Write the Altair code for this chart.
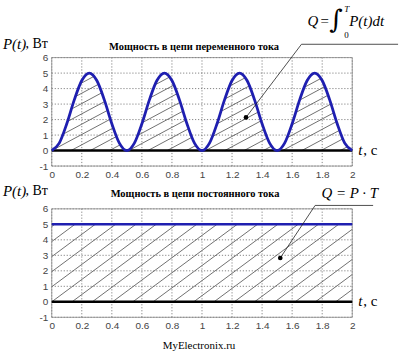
import altair as alt
import pandas as pd

# ---------------- data ----------------
t_vals = [0.0, 0.05, 0.1, 0.15, 0.2, 0.25, 0.3, 0.35, 0.4, 0.45,
          0.5, 0.55, 0.6, 0.65, 0.7, 0.75, 0.8, 0.85, 0.9, 0.95,
          1.0, 1.05, 1.1, 1.15, 1.2, 1.25, 1.3, 1.35, 1.4, 1.45,
          1.5, 1.55, 1.6, 1.65, 1.7, 1.75, 1.8, 1.85, 1.9, 1.95, 2.0]
p_ac = [0.0, 0.48, 1.73, 3.27, 4.52, 5.0, 4.52, 3.27, 1.73, 0.48,
        0.0, 0.48, 1.73, 3.27, 4.52, 5.0, 4.52, 3.27, 1.73, 0.48,
        0.0, 0.48, 1.73, 3.27, 4.52, 5.0, 4.52, 3.27, 1.73, 0.48,
        0.0, 0.48, 1.73, 3.27, 4.52, 5.0, 4.52, 3.27, 1.73, 0.48, 0.0]
t_dc = [0.0, 2.0]
p_dc = [5.0, 5.0]

x_ticks = [0, 0.2, 0.4, 0.6, 0.8, 1, 1.2, 1.4, 1.6, 1.8, 2]
y_ticks = [-1, 0, 1, 2, 3, 4, 5, 6]

title_ac = "Мощность в цепи переменного тока"
title_dc = "Мощность в цепи постоянного тока"
site = "MyElectronix.ru"

# annotation anchors (data coordinates)
lead_ac_x = [1.293, 1.662, 2.305]
lead_ac_y = [2.14, 6.86, 6.86]
lead_dc_x = [1.521, 1.753, 2.139]
lead_dc_y = [2.83, 6.22, 6.22]

# ---------------- styling ----------------
W, H = 302, 109
BLUE = "#1f1fb0"
SERIF = "Liberation Serif"
SANS = "Liberation Sans"
GRID = "#666"

xs = alt.Scale(domain=[0, 2], nice=False, zero=False)
ys = alt.Scale(domain=[-1, 6], nice=False, zero=False)
x_axis = alt.Axis(values=x_ticks, format="~g", grid=False, ticks=False, domain=False,
                  labelFont=SANS, labelFontSize=10, labelColor="#444", labelPadding=3,
                  labelOverlap=False, labelFlush=False, title=None)
y_axis = alt.Axis(values=y_ticks, labelExpr="'' + datum.value", grid=False, ticks=False,
                  domain=False, labelFont=SANS, labelFontSize=10, labelColor="#444",
                  labelPadding=4, labelOverlap=False, labelFlush=False, title=None)


def X(v):
    return alt.X(datum=v, scale=xs, axis=x_axis)


def Y(v):
    return alt.Y(datum=v, scale=ys, axis=y_axis)


one = pd.DataFrame({"k": [0]})


def txt(s, x, y, size=14, font=SERIF, style="normal", weight="normal", align="left"):
    return alt.Chart(one).mark_text(
        text=s, font=font, fontSize=size, fontStyle=style, fontWeight=weight,
        align=align, baseline="middle", color="black"
    ).encode(x=alt.value(x), y=alt.value(y))


def hatch_df(spacing, slope, top):
    rows = []
    k = -int(top / slope / spacing) - 2
    while k * spacing <= 2.05:
        x0 = k * spacing
        rows.append({"x0": x0, "x1": x0 + top / slope, "y0": 0.0, "y1": top})
        k += 1
    return pd.DataFrame(rows)


def frame_layers():
    gx = alt.Chart(pd.DataFrame({"v": x_ticks})).mark_rule(
        color=GRID, strokeWidth=0.8, strokeDash=[1.2, 1.8]
    ).encode(x=alt.X("v:Q", scale=xs, axis=x_axis), y=Y(-1), y2=alt.Y2(datum=6))
    gy = alt.Chart(pd.DataFrame({"v": y_ticks})).mark_rule(
        color=GRID, strokeWidth=0.8, strokeDash=[1.2, 1.8]
    ).encode(y=alt.Y("v:Q", scale=ys, axis=y_axis), x=X(0), x2=alt.X2(datum=2))
    border = alt.Chart(one).mark_rect(fillOpacity=0, stroke="#888", strokeWidth=0.8).encode(
        x=X(0), x2=alt.X2(datum=2), y=Y(-1), y2=alt.Y2(datum=6))
    zero = alt.Chart(one).mark_rule(color="black", strokeWidth=2.5).encode(
        y=Y(0), x=X(0), x2=alt.X2(datum=2))
    return gx, gy, border, zero


def leader(xv, yv):
    d = pd.DataFrame({"x": xv, "y": yv, "o": list(range(len(xv)))})
    line = alt.Chart(d).mark_line(color="#222", strokeWidth=0.8, clip=False).encode(
        x=alt.X("x:Q", scale=xs, axis=x_axis), y=alt.Y("y:Q", scale=ys, axis=y_axis),
        order="o:O")
    dot = alt.Chart(d.iloc[:1]).mark_circle(color="black", opacity=1, size=22).encode(
        x=alt.X("x:Q", scale=xs, axis=x_axis), y=alt.Y("y:Q", scale=ys, axis=y_axis))
    return line, dot


# ---------------- top panel (AC) ----------------
ac = pd.DataFrame({"t": t_vals, "p": p_ac})
h_ac = alt.Chart(hatch_df(0.128, 5.2, 6.0)).mark_rule(
    color="#333", strokeWidth=0.7, clip=True
).encode(x=alt.X("x0:Q", scale=xs, axis=x_axis), x2="x1:Q",
         y=alt.Y("y0:Q", scale=ys, axis=y_axis), y2="y1:Q")
mask = alt.Chart(ac).mark_area(interpolate="monotone", color="white", opacity=1, clip=True).encode(
    x=alt.X("t:Q", scale=xs, axis=x_axis), y=alt.Y("p:Q", scale=ys, axis=y_axis),
    y2=alt.Y2(datum=6))
curve_ac = alt.Chart(ac).mark_line(interpolate="monotone", color=BLUE, strokeWidth=2.8).encode(
    x=alt.X("t:Q", scale=xs, axis=x_axis), y=alt.Y("p:Q", scale=ys, axis=y_axis))
gx, gy, border, zero = frame_layers()
l_ac, d_ac = leader(lead_ac_x, lead_ac_y)
anchor_top = alt.Chart(one).mark_rule(strokeOpacity=0).encode(
    x=alt.value(-52), x2=alt.value(348), y=alt.value(-57))

top = alt.layer(
    h_ac, mask, gx, gy, border, zero, curve_ac, l_ac, d_ac,
    txt("P(t)", -49, -14, 15, style="italic"),
    txt(", Вт", -4, -14, 14, align="right"),
    txt(title_ac, 143, -11, 10.5, weight="bold", align="center"),
    txt("t", 308, 93, 15, style="italic"),
    txt(", с", 313, 93, 15),
    txt("Q", 257, -37, 15, style="italic"),
    txt("=", 270, -37, 15),
    txt("∫", 279, -38, 26, font="DejaVu Serif"),
    txt("T", 294, -49, 9, style="italic"),
    txt("0", 294, -23, 9),
    txt("P(t)dt", 299, -37, 15, style="italic"),
    anchor_top,
).properties(width=W, height=H)

# ---------------- bottom panel (DC) ----------------
dc = pd.DataFrame({"t": t_dc, "p": p_dc})
h_dc = alt.Chart(hatch_df(0.135, 7.2, 5.0)).mark_rule(
    color="#333", strokeWidth=0.7, clip=True
).encode(x=alt.X("x0:Q", scale=xs, axis=x_axis), x2="x1:Q",
         y=alt.Y("y0:Q", scale=ys, axis=y_axis), y2="y1:Q")
curve_dc = alt.Chart(dc).mark_line(color=BLUE, strokeWidth=2.5).encode(
    x=alt.X("t:Q", scale=xs, axis=x_axis), y=alt.Y("p:Q", scale=ys, axis=y_axis))
gx2, gy2, border2, zero2 = frame_layers()
l_dc, d_dc = leader(lead_dc_x, lead_dc_y)
anchor_bot = alt.Chart(one).mark_rule(strokeOpacity=0).encode(
    x=alt.value(-52), x2=alt.value(348), y=alt.value(147))

bottom = alt.layer(
    h_dc, gx2, gy2, border2, zero2, curve_dc, l_dc, d_dc,
    txt("P(t)", -49, -18, 15, style="italic"),
    txt(", Вт", -4, -18, 14, align="right"),
    txt(title_dc, 144, -15, 10.5, weight="bold", align="center"),
    txt("t", 308, 93, 15, style="italic"),
    txt(", с", 313, 93, 15),
    txt("Q = P · T", 271, -16, 15, style="italic"),
    txt(site, 148, 138, 11, align="center"),
    anchor_bot,
).properties(width=W, height=H)

chart = alt.vconcat(top, bottom, spacing=43, bounds="flush").properties(
    padding=0
).configure_view(stroke=None).configure_axis(
    labelOverlap=False, labelFont=SANS, labelFontSize=10, labelColor="#444",
    ticks=False, domain=False, grid=False, labelFlush=False
)

chart.save("out.html", embed_options={"renderer": "svg", "actions": False})
